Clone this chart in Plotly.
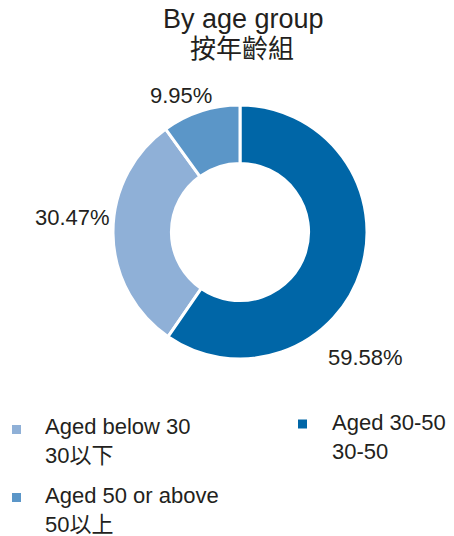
import plotly.graph_objects as go

# Data
labels_en = ["Aged below 30", "Aged 30-50", "Aged 50 or above"]
labels_zh = ["30以下", "30-50", "50以上"]
values = [30.47, 59.58, 9.95]
value_text = ["30.47%", "59.58%", "9.95%"]
colors = ["#8fb0d7", "#0066a7", "#5b96c8"]

FONT = "Arial, 'Liberation Sans', 'Noto Sans CJK TC', sans-serif"
TXT = "#231f20"
W, H = 454, 536


def px(x):
    return x / W


def py(y):
    return 1 - y / H


fig = go.Figure()
fig.add_trace(go.Pie(
    labels=[f"{e}<br>{z}" for e, z in zip(labels_en, labels_zh)],
    values=values,
    sort=False,
    direction="counterclockwise",
    rotation=values[1] * 3.6,
    hole=0.54,
    textinfo="none",
    marker=dict(colors=colors, line=dict(color="white", width=3)),
    domain=dict(x=[px(240 - 127), px(240 + 127)],
                y=[py(232 + 127), py(232 - 127)]),
    showlegend=False,
))

# Percentage labels
label_pos = [(72, 217), (365, 357), (181, 96)]
for t, (x, y) in zip(value_text, label_pos):
    fig.add_annotation(text=t, x=px(x), y=py(y), xref="paper", yref="paper",
                       showarrow=False, xanchor="center", yanchor="middle",
                       font=dict(size=22, color=TXT, family=FONT))

# Title
fig.add_annotation(text="By age group", x=px(243), y=py(19), xref="paper", yref="paper",
                   showarrow=False, xanchor="center", yanchor="middle",
                   font=dict(size=27, color=TXT, family=FONT))
fig.add_annotation(text="按年齡組", x=px(242), y=py(49), xref="paper", yref="paper",
                   showarrow=False, xanchor="center", yanchor="middle",
                   font=dict(size=26, color=TXT, family=FONT))

# Legend (manual layout: two columns)
legend_pos = [(16.5, 429.5, 43, 412), (302.5, 424, 330, 408), (16.5, 497.5, 43, 481)]
for en, zh, c, (mx, my, tx, ty) in zip(labels_en, labels_zh, colors, legend_pos):
    fig.add_shape(type="rect", xref="paper", yref="paper",
                  x0=px(mx - 4.5), x1=px(mx + 4.5), y0=py(my + 4.5), y1=py(my - 4.5),
                  fillcolor=c, line=dict(width=0))
    fig.add_annotation(text=f"{en}<br>{zh}", x=px(tx), y=py(ty), xref="paper", yref="paper",
                       showarrow=False, xanchor="left", yanchor="top", align="left",
                       font=dict(size=22, color=TXT, family=FONT))

fig.update_layout(
    width=W, height=H, autosize=False,
    margin=dict(l=0, r=0, t=0, b=0),
    paper_bgcolor="white", plot_bgcolor="white",
    showlegend=False,
)

fig.write_html("out.html", config={"displayModeBar": False},
               post_script="document.body.style.margin='0px';document.body.style.overflow='hidden';")
